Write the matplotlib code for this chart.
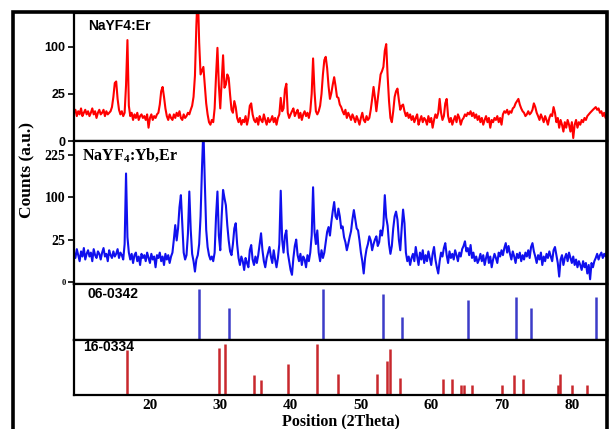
import numpy as np
import matplotlib
matplotlib.use("Agg")
import matplotlib.pyplot as plt
from matplotlib.patches import Rectangle

plt.rcParams['mathtext.fontset'] = 'custom'
plt.rcParams['mathtext.bf'] = 'Liberation Serif:bold'
plt.rcParams['mathtext.rm'] = 'Liberation Serif:bold'

# 2theta grid, 0.2 deg steps
two_theta = np.round(np.arange(9.2, 85.01, 0.2), 1)

# NaYF4:Er counts, one row = 2 degrees
counts_er = [
    9, 11, 7, 10, 8, 12, 7, 9, 11, 8,
    10, 7, 9, 12, 8, 10, 6, 9, 11, 8,
    9, 11, 7, 10, 8, 9, 10, 13, 22, 38,
    40, 20, 11, 8, 10, 7, 9, 35, 115, 14,
    7, 9, 5, 8, 6, 9, 5, 7, 8, 6,
    7, 5, 8, 2, 6, 8, 5, 7, 6, 8,
    9, 15, 28, 33, 22, 12, 7, 5, 8, 6,
    5, 8, 6, 9, 7, 10, 6, 5, 8, 6,
    7, 9, 8, 11, 14, 22, 48, 150, 260, 110,
    50, 56, 62, 36, 16, 8, 4, 3, 5, 4,
    12, 48, 98, 35, 12, 40, 83, 32, 36, 50,
    45, 24, 11, 9, 18, 13, 6, 4, 6, 3,
    5, 4, 7, 3, 6, 14, 16, 8, 5, 4,
    6, 3, 7, 5, 4, 8, 5, 3, 6, 4,
    5, 7, 4, 6, 3, 6, 8, 21, 10, 12,
    30, 37, 9, 6, 8, 10, 12, 7, 9, 11,
    6, 9, 5, 8, 10, 7, 9, 6, 10, 25,
    77, 28, 10, 8, 10, 14, 25, 50, 74, 80,
    60, 34, 20, 26, 36, 46, 34, 22, 21, 15,
    13, 10, 8, 11, 6, 9, 7, 5, 8, 6,
    4, 7, 5, 3, 6, 9, 5, 4, 7, 5,
    6, 11, 20, 33, 21, 10, 20, 34, 50, 55,
    62, 92, 106, 48, 18, 6, 4, 10, 22, 28,
    31, 19, 11, 14, 15, 10, 7, 9, 6, 8,
    5, 7, 4, 6, 8, 3, 5, 7, 4, 6,
    5, 3, 7, 4, 6, 2, 5, 8, 6, 9,
    20, 9, 5, 7, 16, 20, 7, 4, 6, 3,
    5, 7, 4, 8, 6, 3, 5, 6, 8, 7,
    9, 8, 10, 7, 9, 6, 8, 5, 7, 4,
    6, 3, 5, 7, 4, 6, 2, 5, 4, 6,
    5, 7, 4, 6, 3, 8, 10, 9, 11, 8,
    10, 9, 12, 13, 16, 18, 20, 15, 12, 10,
    9, 7, 8, 10, 8, 9, 11, 16, 13, 9,
    7, 5, 8, 6, 4, 7, 5, 3, 6, 8,
    7, 13, 9, 4, 6, 2, 5, 3, 1, 4,
    2, 5, 3, 1, 4, 0.1, 3, 5, 2, 4,
    3, 5, 4, 6, 5, 7, 8, 9, 10, 11,
    12, 13, 11, 12, 9, 10, 7, 9, 6, 8,
]

# NaYF4:Yb,Er counts
counts_ybeb = [
    12, 8, 15, 10, 6, 13, 9, 16, 7, 11,
    14, 9, 12, 6, 15, 10, 8, 13, 11, 7,
    12, 16, 9, 11, 6, 14, 10, 8, 13, 9,
    11, 15, 8, 12, 10, 7, 20, 164, 28, 12,
    7, 11, 5, 10, 12, 6, 9, 4, 11, 8,
    10, 6, 12, 8, 5, 11, 7, 9, 3, 10,
    8, 12, 6, 9, 4, 11, 7, 10, 5, 9,
    12, 25, 45, 24, 40, 78, 105, 48, 12, 7,
    10, 32, 114, 38, 11, 6, 1.5, 7, 10, 20,
    60, 180, 330, 140, 38, 17, 10, 7, 9, 6,
    12, 60, 114, 30, 14, 60, 118, 98, 82, 45,
    24, 13, 10, 20, 40, 48, 20, 8, 4, 9,
    6, 2, 8, 5, 3, 14, 19, 7, 4, 9,
    5, 10, 20, 33, 14, 6, 3, 8, 12, 17,
    9, 5, 14, 7, 3, 8, 20, 116, 25, 12,
    30, 37, 12, 6, 2, 0.7, 8, 18, 25, 10,
    6, 11, 4, 9, 7, 3, 10, 6, 12, 30,
    125, 35, 20, 37, 12, 6, 14, 8, 12, 22,
    35, 42, 30, 50, 70, 89, 60, 55, 75, 60,
    40, 43, 28, 22, 14, 20, 28, 36, 55, 72,
    55, 40, 37, 24, 12, 6, 1, 8, 15, 20,
    29, 24, 14, 20, 25, 29, 18, 22, 37, 30,
    45, 105, 58, 44, 20, 11, 18, 40, 60, 69,
    54, 25, 14, 40, 73, 48, 12, 6, 9, 4,
    8, 11, 6, 17, 9, 4, 12, 7, 14, 5,
    10, 6, 13, 8, 4, 11, 17, 7, 3, 1,
    6, 12, 9, 16, 21, 10, 5, 13, 8, 11,
    7, 14, 10, 6, 12, 9, 15, 18, 23, 13,
    16, 10, 19, 8, 12, 6, 9, 5, 7, 11,
    6, 10, 4, 8, 12, 5, 9, 3, 7, 11,
    8, 5, 12, 9, 14, 10, 16, 21, 12, 18,
    11, 7, 13, 9, 5, 11, 8, 12, 6, 10,
    7, 12, 9, 14, 8, 17, 21, 13, 9, 5,
    10, 7, 12, 4, 9, 6, 11, 8, 13, 9,
    6, 14, 17, 10, 5, 0.4, 7, 10, 4, 8,
    11, 6, 12, 8, 5, 9, 4, 7, 3, 6,
    4, 2, 6, 3, 5, 1, 4, 0.1, 5, 3,
    6, 8, 11, 7, 10, 12, 8, 11, 9, 13,
]

# standard card 06-0342 (cubic)
card1_pos = [27.0, 31.2, 44.6, 53.2, 55.8, 65.3, 72.0, 74.2, 83.4]
card1_int = [91, 58, 91, 82, 41, 71, 76, 58, 77]

# standard card 16-0334 (hexagonal)
card2_pos = [16.8, 29.85, 30.7, 34.8, 35.8, 39.7, 43.7, 46.8, 52.3, 53.65,
             54.1, 55.6, 61.7, 62.9, 64.3, 64.7, 65.8, 70.0, 71.8, 73.0,
             78.0, 78.3, 80.0, 82.1]
card2_int = [82, 85, 92, 36, 27, 56, 93, 39, 39, 62,
             83, 31, 29, 29, 18, 18, 18, 18, 36, 29,
             18, 39, 18, 18]

x_ticks = [20, 30, 40, 50, 60, 70, 80]

serif = 'Liberation Serif'
sans = 'Liberation Sans'


def fwd(v):
    v = np.asarray(v, dtype=float)
    return np.sign(v) * np.sqrt(np.abs(v))


def inv(v):
    v = np.asarray(v, dtype=float)
    return np.sign(v) * v ** 2


W, H = 610, 429
fig = plt.figure(figsize=(W / 100, H / 100), dpi=100)
fig.patch.set_facecolor('white')


def panel(top, bottom):
    left, right = 74, 607
    return fig.add_axes([left / W, 1 - bottom / H, (right - left) / W, (bottom - top) / H])


ax1 = panel(13, 141)
ax2 = panel(141, 284)
ax3 = panel(284, 340)
ax4 = panel(340, 395)

for ax in (ax1, ax2, ax3, ax4):
    ax.set_xlim(9.2, 85.0)
    for s in ax.spines.values():
        s.set_linewidth(1.6)
    ax.set_xticks(x_ticks)
    ax.set_xticks(np.arange(10, 85, 1), minor=True)

# XRD patterns
ax1.plot(two_theta, counts_er, color='#ff0000', lw=1.5)
ax1.set_yscale('function', functions=(fwd, inv))
ax1.set_ylim(0, 185)
ax1.set_yticks([0, 25, 100])
ax1.set_yticklabels(['0', '25', '100'], fontfamily=sans, fontweight='bold', fontsize=9)

ax2.plot(two_theta, counts_ybeb, color='#1010ee', lw=1.5)
ax2.set_yscale('function', functions=(fwd, inv))
ax2.set_ylim(-0.06, 277)
ax2.set_yticks([0, 25, 100, 225])
ax2.set_yticklabels(['0', '25', '100', '225'], fontfamily=serif, fontweight='bold', fontsize=10)

for ax in (ax1, ax2):
    ax.tick_params(axis='y', direction='out', length=4, width=1.2, pad=2)
    ax.tick_params(axis='x', which='major', direction='out', length=3, width=1, labelbottom=False)
    ax.tick_params(axis='x', which='minor', direction='out', length=2, width=0.8)
ax2.get_yticklabels()[0].set_fontsize(6)

# reference cards
ax3.vlines(card1_pos, 0, card1_int, color='#3c3cc8', lw=1.8)
ax4.vlines(card2_pos, 0, card2_int, color='#c8282d', lw=1.8)
for ax in (ax3, ax4):
    ax.set_ylim(0, 100)
    ax.set_yticks([])
    ax.tick_params(axis='x', which='both', length=0, labelbottom=False)
ax4.tick_params(axis='x', which='major', labelbottom=True, pad=3)
for lab in ax4.get_xticklabels():
    lab.set_fontfamily(serif)
    lab.set_fontweight('bold')
    lab.set_fontsize(11)

ax1.text(0.026, 0.90, 'NaYF4:Er', transform=ax1.transAxes, fontfamily=sans,
         fontweight='bold', fontsize=10, va='center', ha='left')
ax2.text(0.015, 0.895, r'NaYF$_\mathbf{4}$:Yb,Er', transform=ax2.transAxes, fontfamily=serif,
         fontweight='bold', fontsize=11.5, va='center', ha='left')
ax3.text(0.026, 0.82, '06-0342', transform=ax3.transAxes, fontfamily=sans,
         fontweight='bold', fontsize=10, va='center', ha='left')
ax4.text(0.017, 0.88, '16-0334', transform=ax4.transAxes, fontfamily=sans,
         fontweight='bold', fontsize=10, va='center', ha='left')

fig.text(341 / W, 1 - 425 / H, 'Position (2Theta)', fontfamily=serif, fontweight='bold',
         fontsize=11.5, ha='center', va='baseline')
fig.text(27 / W, 1 - 170 / H, 'Counts (a.u.)', fontfamily=serif, fontweight='bold',
         fontsize=12.5, ha='center', va='center', rotation=90)

# outer frame
fig.patches.append(Rectangle((13 / W, -0.02), (607 - 13) / W, 1 - 12 / H + 0.02,
                             transform=fig.transFigure, fill=False, lw=2.6, ec='black'))

fig.savefig('out.png', dpi=100)
